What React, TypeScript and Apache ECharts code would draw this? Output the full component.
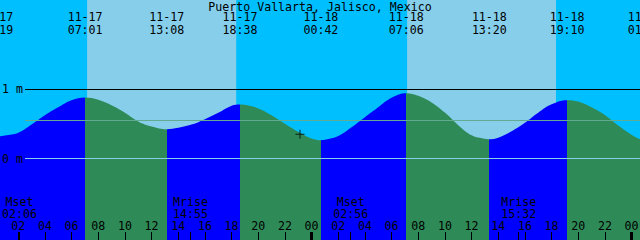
import { useEffect, useRef } from "react";
import * as echarts from "echarts";

// ---------- data ----------
const TITLE = "Puerto Vallarta, Jalisco, Mexico";

// tide height (m) at each whole hour, index = hours after 11-17 00:00
const hourlyHeights = [
  0.322, 0.333, 0.374, 0.493, 0.628, 0.743, 0.845, 0.884, 0.852, 0.772,
  0.664, 0.538, 0.465, 0.428, 0.445, 0.491, 0.57, 0.662, 0.765, 0.778,
  0.726, 0.628, 0.504, 0.388, 0.29, 0.27, 0.326, 0.454, 0.599, 0.743,
  0.88, 0.942, 0.909, 0.813, 0.665, 0.483, 0.338, 0.286, 0.301, 0.396,
  0.519, 0.664, 0.785, 0.843, 0.825, 0.743, 0.63, 0.478, 0.345, 0.243,
];

// high / low tides
const extremeTimes = [
  "11-17 00:19", "11-17 07:01", "11-17 13:08", "11-17 18:38",
  "11-18 00:42", "11-18 07:06", "11-18 13:20", "11-18 19:10", "11-19 01:01",
];
const extremeKinds = ["L", "H", "L", "H", "L", "H", "L", "H", "L"];
const extremeHeights = [0.32, 0.885, 0.425, 0.783, 0.265, 0.945, 0.28, 0.845, 0.24];

const sunriseTimes = ["11-17 07:10", "11-18 07:10"];
const sunsetTimes = ["11-17 18:21", "11-18 18:20"];

const moonTimes = ["11-17 02:06", "11-17 14:55", "11-18 02:56", "11-18 15:32"];
const moonEvents = ["Mset", "Mrise", "Mset", "Mrise"];

const hourTickValues = [2, 4, 6, 8, 10, 12, 14, 16, 18, 20, 22, 24, 26, 28, 30, 32, 34, 36, 38, 40, 42, 44, 46, 48];
const midnightValues = [24, 48];
const levelLabelValues = [0, 1];

const nowTime = "11-17 23:08";
const nowHeight = 0.352;

const VIEW_START = "11-17 00:38";
const VIEW_HOURS = 48;
const MSL = 0.55;

// ---------- styling / layout ----------
const NIGHT = "#00BFFF";
const DAY = "#87CEEB";
const RISING = "#0000FF";
const FALLING = "#2E8B57";
const FONT = '"DejaVu Sans Mono", "Liberation Mono", monospace';
const FS = 11.6;
const W = 640;
const H = 240;
const GRID_PAD = 40;
const Y_MIN = -1.181;
const Y_MAX = 2.297;
const LINE_START_PX = 25;

function toHours(s: string): number {
  const [md, hm] = s.split(" ");
  const day = parseInt(md.split("-")[1], 10);
  const [hh, mm] = hm.split(":").map((v) => parseInt(v, 10));
  return (day - 17) * 24 + hh + mm / 60;
}

const pad2 = (n: number) => (n < 10 ? "0" + n : "" + n);

export default function App() {
  const ref = useRef<HTMLDivElement>(null);

  useEffect(() => {
    if (!ref.current) return;
    const chart = echarts.init(ref.current, undefined, { renderer: "svg", width: W, height: H });

    const pxPerHour = W / VIEW_HOURS;
    const viewStart = toHours(VIEW_START);
    const viewEnd = viewStart + VIEW_HOURS;
    const xMin = viewStart - GRID_PAD / pxPerHour;
    const xMax = viewEnd + GRID_PAD / pxPerHour;

    const exHours = extremeTimes.map(toHours);
    const curve: number[][] = [];
    hourlyHeights.forEach((v, i) => {
      if (exHours.every((e) => Math.abs(e - i) > 0.2)) curve.push([i, v]);
    });
    exHours.forEach((t, i) => curve.push([t, extremeHeights[i]]));
    curve.sort((a, b) => a[0] - b[0]);

    // rising (after a low) = blue, falling (after a high) = green
    const pieces: any[] = [];
    pieces.push({ lt: exHours[0], color: extremeKinds[0] === "L" ? FALLING : RISING });
    for (let i = 0; i < exHours.length - 1; i++) {
      pieces.push({ gte: exHours[i], lt: exHours[i + 1], color: extremeKinds[i] === "L" ? RISING : FALLING });
    }
    const last = exHours.length - 1;
    pieces.push({ gte: exHours[last], color: extremeKinds[last] === "L" ? RISING : FALLING });

    const dayAreas = sunriseTimes.map((sr, i) => [
      { xAxis: toHours(sr) },
      { xAxis: toHours(sunsetTimes[i]) },
    ]);

    const lineStart = viewStart + LINE_START_PX / pxPerHour;
    const levels = [
      { v: 1, c: "#000000" },
      { v: MSL, c: "#62AB93" },
      { v: 0, c: "#87CEEB" },
    ];
    const markLines = levels.map((l) => [
      { coord: [lineStart, l.v], lineStyle: { color: l.c, width: 1, type: "solid" } },
      { coord: [viewEnd, l.v] },
    ]);

    const moonHours = moonTimes.map(toHours);
    const nearest = (arr: number[], v: number) => {
      let bi = 0;
      arr.forEach((a, i) => {
        if (Math.abs(a - v) < Math.abs(arr[bi] - v)) bi = i;
      });
      return bi;
    };

    const txt = { color: "#000", fontFamily: FONT, fontSize: FS };
    const baseX = {
      type: "value",
      min: xMin,
      max: xMax,
      gridIndex: 0,
      z: 10,
      splitLine: { show: false },
      axisLine: { show: false, onZero: false },
    };

    const option: any = {
      animation: false,
      backgroundColor: NIGHT,
      title: {
        text: TITLE,
        left: "center",
        top: 0,
        padding: [1, 0, 0, 0],
        textStyle: { ...txt, fontWeight: "normal" },
      },
      grid: {
        left: -GRID_PAD,
        right: -GRID_PAD,
        top: 0,
        bottom: 0,
        containLabel: false,
        outerBoundsMode: "none",
      },
      xAxis: [
        {
          ...baseX,
          position: "bottom",
          axisTick: {
            show: true,
            inside: true,
            length: 8,
            customValues: hourTickValues.filter((v) => midnightValues.indexOf(v) < 0),
            lineStyle: { color: "#000", width: 1 },
          },
          axisLabel: {
            show: true,
            inside: true,
            margin: 8,
            customValues: hourTickValues,
            formatter: (v: number) => pad2(Math.round(v) % 24),
            ...txt,
          },
        },
        {
          ...baseX,
          position: "bottom",
          axisTick: {
            show: true,
            inside: true,
            length: 8,
            customValues: midnightValues,
            lineStyle: { color: "#000", width: 3 },
          },
          axisLabel: { show: false },
        },
        {
          ...baseX,
          position: "bottom",
          axisTick: {
            show: true,
            inside: true,
            length: 8,
            customValues: moonHours,
            lineStyle: { color: "#000", width: 1 },
          },
          axisLabel: {
            show: true,
            inside: true,
            margin: 20,
            lineHeight: 12,
            customValues: moonHours,
            formatter: (v: number) => {
              const i = nearest(moonHours, v);
              return moonEvents[i] + "\n" + moonTimes[i].split(" ")[1];
            },
            ...txt,
          },
        },
        {
          ...baseX,
          position: "top",
          axisTick: { show: false },
          axisLabel: {
            show: true,
            inside: true,
            margin: 10,
            lineHeight: 13,
            customValues: exHours,
            formatter: (v: number) => {
              const i = nearest(exHours, v);
              return extremeTimes[i].replace(" ", "\n");
            },
            ...txt,
          },
        },
      ],
      yAxis: {
        type: "value",
        min: Y_MIN,
        max: Y_MAX,
        position: "left",
        offset: -GRID_PAD,
        z: 10,
        splitLine: { show: false },
        axisTick: { show: false },
        axisLine: { show: false, onZero: false },
        axisLabel: {
          show: true,
          inside: true,
          margin: 2,
          customValues: levelLabelValues,
          formatter: (v: number) => Math.round(v) + " m",
          ...txt,
        },
      },
      visualMap: {
        type: "piecewise",
        show: false,
        dimension: 0,
        seriesIndex: 0,
        pieces,
      },
      series: [
        {
          type: "line",
          name: "tide",
          xAxisIndex: 0,
          yAxisIndex: 0,
          data: curve,
          smooth: 0.4,
          symbol: "none",
          showSymbol: false,
          z: 2,
          lineStyle: { width: 0 },
          areaStyle: { opacity: 1, origin: "start" },
          markArea: {
            silent: true,
            itemStyle: { color: DAY, opacity: 1 },
            data: dayAreas,
          },
          markLine: {
            silent: true,
            symbol: ["none", "none"],
            label: { show: false },
            data: markLines,
          },
        },
        {
          type: "scatter",
          name: "now",
          xAxisIndex: 0,
          yAxisIndex: 0,
          z: 8,
          data: [[toHours(nowTime), nowHeight]],
          symbol: "path://M4,0H5V4H9V5H5V9H4V5H0V4H4Z",
          symbolSize: 9,
          itemStyle: { color: "#000" },
        },
      ],
    };

    chart.setOption(option);
    return () => chart.dispose();
  }, []);

  return (
    <div
      ref={ref}
      style={{ position: "fixed", left: 0, top: 0, width: W, height: H }}
    />
  );
}
